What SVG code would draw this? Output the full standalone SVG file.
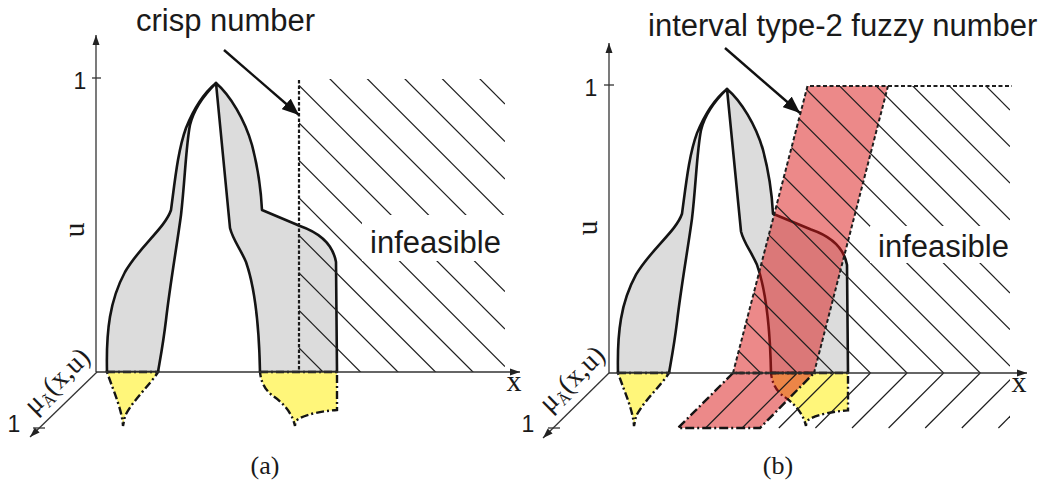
<svg xmlns="http://www.w3.org/2000/svg" width="1041" height="480" viewBox="0 0 1041 480">
<style>
.gray{fill:#dcdcdc;stroke:#141414;stroke-width:2.6;stroke-linejoin:round}
.yel{fill:#fff67a;stroke:#141414;stroke-width:2.4;stroke-dasharray:8 3 2 3}
.hatch line{stroke:#1e1e1e;stroke-width:1.2}
.axis{stroke:#333;stroke-width:1.3;fill:none}
.tick{stroke:#333;stroke-width:1.3}
.lbl{font-family:"Liberation Sans",Arial,sans-serif;fill:#1a1a1a}
.ser{font-family:"Liberation Serif","Times New Roman",serif;fill:#1a1a1a}
.band{fill:#da1414;fill-opacity:0.5}
.bandline{fill:none;stroke:#1e1e1e;stroke-width:2;stroke-dasharray:4 2.5}
.shadowline{fill:none;stroke:#141414;stroke-width:2.4;stroke-dasharray:9 3 2 3}
.callout{stroke:#111;stroke-width:2.4;fill:none}
</style>
<defs>
<marker id="ax" markerUnits="userSpaceOnUse" markerWidth="11" markerHeight="8" refX="10" refY="4" orient="auto"><path d="M0,0.5 L10,4 L0,7.5 z" fill="#222"/></marker>
<marker id="ca" markerUnits="userSpaceOnUse" markerWidth="18" markerHeight="14" refX="17" refY="7" orient="auto"><path d="M0,0 L17,7 L0,14 z" fill="#111"/></marker>
<clipPath id="cl1"><rect x="299" y="79" width="206" height="293"/></clipPath>
<clipPath id="cl2"><polygon points="733,373 807.5,86 1010,86 1010,373"/></clipPath>
<clipPath id="cl3"><rect x="700" y="373" width="310" height="56"/></clipPath>
<g id="shapes">
<path class="gray" d="M107,372 C106,330 110,300 125,272 C140,246 165,228 171,210 C175,180 178,150 186,128 C194,108 204,93 216,83 C204,95 194,108 190,125 C186,145 185,180 181,215 C177,245 170,285 166,320 C163,345 160,360 158,372 Z"/>
<path class="gray" d="M216,83 C230,95 245,120 252,145 C258,168 261,190 262,210 L300,226 C320,233 333,245 336,262 L337,372 L260,372 C259,320 254,285 246,262 C240,248 233,240 230,228 Z"/>
<path class="yel" d="M107,372 L158,372 C150,385 133,400 125,416 L123,426 C122,410 115,395 107,372 Z"/>
<path class="yel" d="M260,372 L337,372 L337,410 C322,411 308,414 300,418 C296,420 295,423 295,426 C292,412 282,402 273,396 C265,390 261,382 260,372 Z"/>
</g>
</defs>

<g id="panel-a-shapes"><use href="#shapes"/></g>
<g id="panel-b-shapes"><use href="#shapes" transform="matrix(1 0 0 0.983 511 7.32)"/></g>

<g id="band-fill">
<polygon class="band" points="733,373 807.5,86 888,86 814,373"/>
<polygon class="band" points="733,373 814,373 760,428 678,428"/>
</g>

<g id="hatch-a" class="hatch" clip-path="url(#cl1)">
<line x1="299" y1="-102" x2="505" y2="104"/>
<line x1="299" y1="-64.5" x2="505" y2="141.5"/>
<line x1="299" y1="-27" x2="505" y2="179"/>
<line x1="299" y1="10.5" x2="505" y2="216.5"/>
<line x1="299" y1="48" x2="505" y2="254"/>
<line x1="299" y1="85.5" x2="505" y2="291.5"/>
<line x1="299" y1="123" x2="505" y2="329"/>
<line x1="299" y1="160.5" x2="505" y2="366.5"/>
<line x1="299" y1="198" x2="505" y2="404"/>
<line x1="299" y1="235.5" x2="505" y2="441.5"/>
<line x1="299" y1="273" x2="505" y2="479"/>
<line x1="299" y1="310.5" x2="505" y2="516.5"/>
<line x1="299" y1="348" x2="505" y2="554"/>
</g>

<g id="hatch-b" class="hatch" clip-path="url(#cl2)">
<line x1="700" y1="-200" x2="1010" y2="110"/>
<line x1="700" y1="-163.4" x2="1010" y2="146.6"/>
<line x1="700" y1="-126.8" x2="1010" y2="183.2"/>
<line x1="700" y1="-90.2" x2="1010" y2="219.8"/>
<line x1="700" y1="-53.6" x2="1010" y2="256.4"/>
<line x1="700" y1="-17" x2="1010" y2="293"/>
<line x1="700" y1="19.6" x2="1010" y2="329.6"/>
<line x1="700" y1="56.2" x2="1010" y2="366.2"/>
<line x1="700" y1="92.8" x2="1010" y2="402.8"/>
<line x1="700" y1="129.4" x2="1010" y2="439.4"/>
<line x1="700" y1="166" x2="1010" y2="476"/>
<line x1="700" y1="202.6" x2="1010" y2="512.6"/>
<line x1="700" y1="239.2" x2="1010" y2="549.2"/>
<line x1="700" y1="275.8" x2="1010" y2="585.8"/>
<line x1="700" y1="312.4" x2="1010" y2="622.4"/>
</g>
<g id="hatch-b-below" class="hatch" clip-path="url(#cl3)">
<line x1="1053.4" y1="373" x2="998.4" y2="428"/>
<line x1="1016.8" y1="373" x2="961.8" y2="428"/>
<line x1="980.2" y1="373" x2="925.2" y2="428"/>
<line x1="943.6" y1="373" x2="888.6" y2="428"/>
<line x1="907" y1="373" x2="852" y2="428"/>
<line x1="870.4" y1="373" x2="815.4" y2="428"/>
<line x1="833.8" y1="373" x2="778.8" y2="428"/>
<line x1="797.2" y1="373" x2="742.2" y2="428"/>
<line x1="760.6" y1="373" x2="705.6" y2="428"/>
</g>

<g id="band-outline">
<polyline class="bandline" points="733,373 807.5,86 1012,86"/>
<polyline class="bandline" points="888,86 814,373"/>
<line class="bandline" x1="733" y1="373" x2="814" y2="373" style="stroke-width:2.4"/>
<polygon class="shadowline" points="733,373 678,428 760,428 814,373"/>
</g>

<g id="infeasible-a">
<rect x="362" y="215" width="144" height="46" fill="#fff"/>
<text class="lbl" x="370" y="253" font-size="31">infeasible</text>
</g>
<g id="infeasible-b">
<rect x="870" y="226" width="142" height="37" fill="#fff"/>
<text class="lbl" x="878" y="257" font-size="31">infeasible</text>
</g>

<g id="axes-a">
<line class="axis" x1="96" y1="372" x2="96" y2="35" marker-end="url(#ax)"/>
<line class="axis" x1="96" y1="372" x2="520" y2="372" marker-end="url(#ax)"/>
<line class="axis" x1="97" y1="372" x2="30" y2="437" marker-end="url(#ax)"/>
<line class="tick" x1="92" y1="78" x2="101" y2="78"/>
<line class="tick" x1="33" y1="428" x2="45" y2="428"/>
</g>
<g id="axes-b">
<line class="axis" x1="609" y1="373" x2="609" y2="43" marker-end="url(#ax)"/>
<line class="axis" x1="609" y1="373" x2="1027" y2="373" marker-end="url(#ax)"/>
<line class="axis" x1="609" y1="373" x2="543" y2="438" marker-end="url(#ax)"/>
<line class="tick" x1="604" y1="85" x2="614" y2="85"/>
<line class="tick" x1="548" y1="428" x2="560" y2="428"/>
</g>

<g id="crisp-line">
<line x1="299" y1="80" x2="299" y2="372" stroke="#1a1a1a" stroke-width="2.2" stroke-dasharray="3.5 2"/>
</g>

<g id="callouts">
<line class="callout" x1="224" y1="50" x2="299" y2="115" marker-end="url(#ca)"/>
<line class="callout" x1="725" y1="48" x2="800" y2="113" marker-end="url(#ca)"/>
</g>

<g id="labels">
<text class="lbl" x="136" y="31" font-size="31">crisp number</text>
<text class="lbl" x="648" y="36" font-size="31">interval type-2 fuzzy number</text>
<text class="lbl" x="80" y="89" font-size="23" text-anchor="middle">1</text>
<text class="lbl" x="591" y="96" font-size="23" text-anchor="middle">1</text>
<text class="lbl" x="14" y="432" font-size="23" text-anchor="middle">1</text>
<text class="lbl" x="528" y="432" font-size="23" text-anchor="middle">1</text>
<text class="ser" font-size="30" text-anchor="middle" transform="translate(84,230) rotate(-90)">u</text>
<text class="ser" font-size="30" text-anchor="middle" transform="translate(597,228) rotate(-90)">u</text>
<text class="ser" x="514" y="391" font-size="30" text-anchor="middle">x</text>
<text class="ser" x="1019" y="392" font-size="30" text-anchor="middle">x</text>
<text class="ser" font-size="28" text-anchor="middle" transform="translate(63,387) rotate(-44.6)">μ<tspan font-size="16" dy="5">Ã</tspan><tspan dy="-5">(x,u)</tspan></text>
<text class="ser" font-size="28" text-anchor="middle" transform="translate(578,385) rotate(-44.6)">μ<tspan font-size="16" dy="5">Ã</tspan><tspan dy="-5">(x,u)</tspan></text>
<text class="ser" x="265" y="474" font-size="26" text-anchor="middle">(a)</text>
<text class="ser" x="778" y="474" font-size="26" text-anchor="middle">(b)</text>
</g>
</svg>
